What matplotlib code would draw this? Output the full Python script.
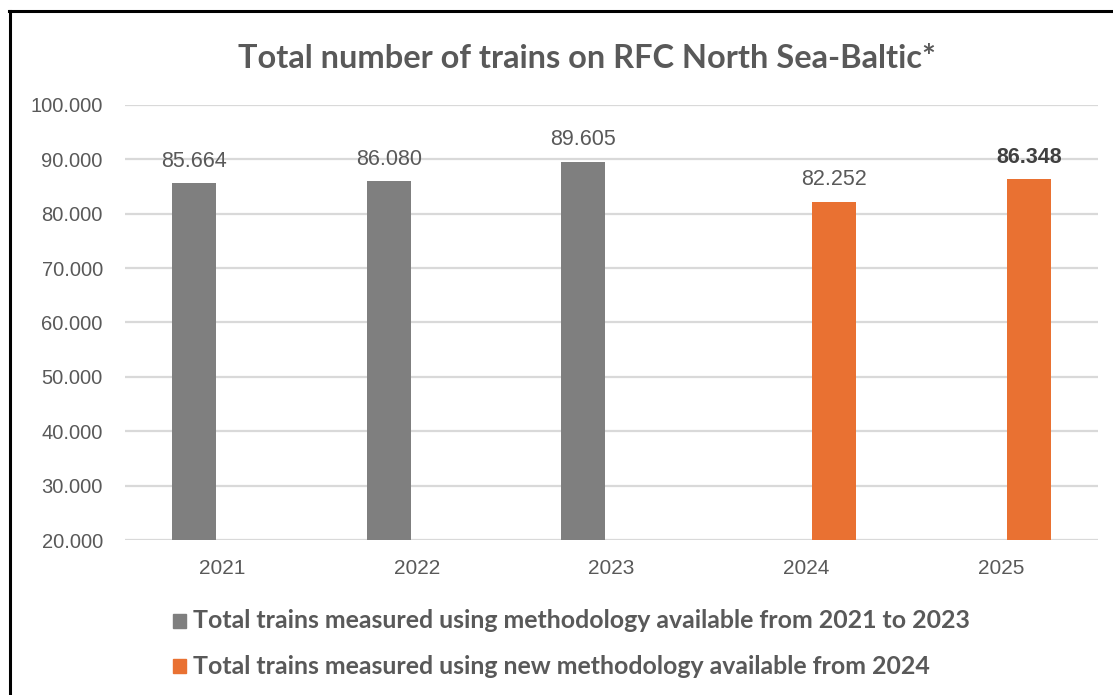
import numpy as np
import matplotlib
matplotlib.use('Agg')
import matplotlib.pyplot as plt
from matplotlib.lines import Line2D
from matplotlib.patches import Rectangle

# ==================================================
#   Data
years = ['2021', '2022', '2023', '2024', '2025']
old_years = ['2021', '2022', '2023']
old_values = [85664, 86080, 89605]
new_years = ['2024', '2025']
new_values = [82252, 86348]
y_ticks = [20000, 30000, 40000, 50000, 60000, 70000, 80000, 90000, 100000]

title = 'Total number of trains on RFC North Sea-Baltic*'
old_label = 'Total trains measured using methodology available from 2021 to 2023'
new_label = 'Total trains measured using new methodology available from 2024'

GRAY = '#7f7f7f'
ORANGE = '#e97132'
TXT = '#595959'
NUMFONT = ['Liberation Sans', 'DejaVu Sans']
HEADFONT = ['Lato', 'DejaVu Sans']


def fmt(v):
    return '{:,.0f}'.format(v).replace(',', '.')


# ==================================================
fig = plt.figure(figsize=(11.13, 6.95), dpi=100)
ax = fig.add_axes([125 / 1113, 155 / 695, 973 / 1113, 435 / 695])

w = 0.226
off = 0.144
x_old = np.array([years.index(y) for y in old_years])
x_new = np.array([years.index(y) for y in new_years])
ax.bar(x_old - off, old_values, width=w, color=GRAY, zorder=2)
ax.bar(x_new + off, new_values, width=w, color=ORANGE, zorder=2)

for x, v in zip(x_old - off, old_values):
    ax.annotate(fmt(v), xy=(x, v), xytext=(0, 8), textcoords='offset points',
                ha='center', va='bottom', fontsize=15.5, color=TXT, family=NUMFONT)
for i, (x, v) in enumerate(zip(x_new + off, new_values)):
    last = i == len(new_values) - 1
    ax.annotate(fmt(v), xy=(x, v), xytext=(0, 8), textcoords='offset points',
                ha='center', va='bottom', fontsize=15.5,
                color='#404040' if last else TXT,
                fontweight='bold' if last else 'normal', family=NUMFONT)

ax.set_xlim(-0.5, len(years) - 0.5)
ax.set_ylim(20000, 100000)
ax.set_yticks(y_ticks)
ax.set_yticklabels([fmt(t) for t in y_ticks], fontsize=14.5, color=TXT, family=NUMFONT)
ax.set_xticks(range(len(years)))
ax.set_xticklabels(years, fontsize=15, color=TXT, family=NUMFONT)
ax.tick_params(axis='both', length=0)
ax.tick_params(axis='y', pad=16)
ax.tick_params(axis='x', pad=14)
ax.grid(axis='y', color='#d9d9d9', linewidth=1.6, zorder=0)
for s in ax.spines.values():
    s.set_visible(False)

fig.text(587 / 1113, 1 - 58 / 695, title, ha='center', va='center',
         fontsize=23.4, fontweight='bold', color=TXT, family=HEADFONT)

#   legend
for yc, col, lab in [(621, GRAY, old_label), (666, ORANGE, new_label)]:
    fig.add_artist(Rectangle((173 / 1113, 1 - (yc + 7) / 695), 13 / 1113, 14 / 695,
                             transform=fig.transFigure, color=col))
    fig.text(193 / 1113, 1 - yc / 695, lab, ha='left', va='center',
             fontsize=17.9, fontweight='bold', color=TXT, family=HEADFONT)

#   border
fig.add_artist(Line2D([9 / 1113, 1], [1 - 10.5 / 695, 1 - 10.5 / 695],
                      transform=fig.transFigure, color='black', linewidth=2.2))
fig.add_artist(Line2D([9.5 / 1113, 9.5 / 1113], [0, 1 - 10.5 / 695],
                      transform=fig.transFigure, color='black', linewidth=2.2))

fig.savefig('out.png', dpi=100)
